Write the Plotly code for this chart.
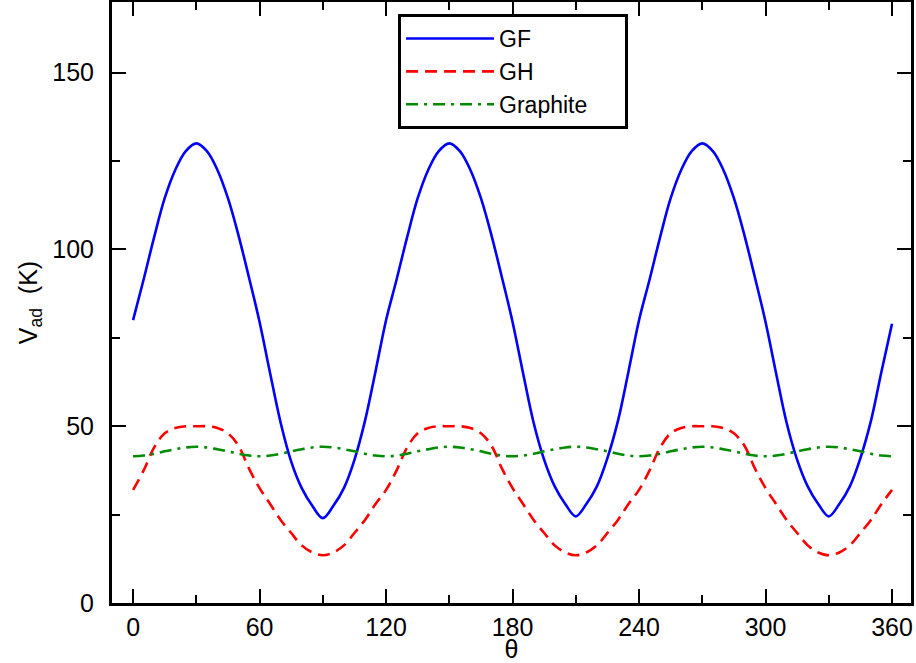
import plotly.graph_objects as go

theta = list(range(0, 365, 5))

gf = [80, 91.5, 103.5, 114.5, 122.5, 127.8, 130, 127.8, 122.5, 114.5, 104, 92, 79.5, 65, 51, 40, 32.5, 27.5, 24, 27.5, 32.5, 40.5, 51.5, 65.5,
      80, 91.5, 103.5, 114.5, 122.5, 127.8, 130, 127.8, 122.5, 114.5, 104, 92, 79.5, 65, 51, 40.5, 33, 28, 24.5, 28, 33, 41, 51.5, 65.5,
      80, 91.5, 103.5, 114.5, 122.5, 127.8, 130, 127.8, 122.5, 114.5, 104, 92, 79.5, 65, 51, 40.5, 33, 28, 24.5, 28, 33, 41, 51.5, 65.5,
      79]

gh = [32, 37.5, 44, 48, 49.5, 50, 50, 50, 49.5, 48, 44.5, 38, 32.5, 28, 23.5, 19.8, 16.3, 14.3, 13.5, 14.3, 16.3, 19.8, 23.5, 28,
      32, 37.5, 44, 48, 49.5, 50, 50, 50, 49.5, 48, 44.5, 38, 32.5, 28, 23.5, 19.8, 16.3, 14.3, 13.5, 14.3, 16.3, 19.8, 23.5, 28,
      32, 37.5, 44, 48, 49.5, 50, 50, 50, 49.5, 48, 44.5, 38, 32.5, 28, 23.5, 19.8, 16.3, 14.3, 13.5, 14.3, 16.3, 19.8, 23.5, 28,
      32]

graphite = [41.5, 41.7, 42.2, 42.9, 43.5, 44.0, 44.2, 44.0, 43.5, 42.9, 42.2, 41.7,
            41.5, 41.7, 42.2, 42.9, 43.5, 44.0, 44.2, 44.0, 43.5, 42.9, 42.2, 41.7,
            41.5, 41.7, 42.2, 42.9, 43.5, 44.0, 44.2, 44.0, 43.5, 42.9, 42.2, 41.7,
            41.5, 41.7, 42.2, 42.9, 43.5, 44.0, 44.2, 44.0, 43.5, 42.9, 42.2, 41.7,
            41.5, 41.7, 42.2, 42.9, 43.5, 44.0, 44.2, 44.0, 43.5, 42.9, 42.2, 41.7,
            41.5, 41.7, 42.2, 42.9, 43.5, 44.0, 44.2, 44.0, 43.5, 42.9, 42.2, 41.7,
            41.5]

x_ticks = [0, 60, 120, 180, 240, 300, 360]
y_ticks = [0, 50, 100, 150]
series_names = ["GF", "GH", "Graphite"]

FONT = "Liberation Sans, Arial, sans-serif"
PAD = "\u00a0" * 5

fig = go.Figure()
fig.add_trace(go.Scatter(x=theta, y=gf, name=series_names[0], mode="lines",
                         line=dict(color="#0000ff", width=2.6, shape="spline", smoothing=1.0)))
fig.add_trace(go.Scatter(x=theta, y=gh, name=series_names[1], mode="lines",
                         line=dict(color="#ff0000", width=2.6, dash="12px,7px", shape="spline", smoothing=1.0)))
fig.add_trace(go.Scatter(x=theta, y=graphite, name=series_names[2] + PAD, mode="lines",
                         line=dict(color="#008b00", width=2.6, dash="12px,6px,3px,6px", shape="spline", smoothing=1.0)))

axis_common = dict(
    showline=True, linecolor="black", linewidth=3, mirror="allticks",
    ticks="inside", ticklen=14, tickwidth=2, tickcolor="black",
    showgrid=False, zeroline=False, automargin=False,
    tickfont=dict(family=FONT, size=25, color="black"),
)

fig.update_xaxes(range=[-10, 369], tickvals=x_ticks, ticktext=[str(v) for v in x_ticks],
                 minor=dict(dtick=30, tick0=0, ticks="inside", ticklen=8, tickwidth=2, tickcolor="black"),
                 title=dict(text="θ", font=dict(family=FONT, size=25, color="black"), standoff=1),
                 ticklabelstandoff=0,
                 **axis_common)
fig.update_yaxes(range=[0, 170], tickvals=y_ticks, ticktext=[str(v) for v in y_ticks],
                 minor=dict(dtick=25, tick0=0, ticks="inside", ticklen=8, tickwidth=2, tickcolor="black"),
                 title=dict(text="V<sub>ad</sub>  (K)", font=dict(family=FONT, size=25, color="black"), standoff=8),
                 ticklabelstandoff=10,
                 **axis_common)

fig.update_layout(
    width=916, height=663,
    margin=dict(l=112, r=5, t=2, b=60),
    plot_bgcolor="white", paper_bgcolor="white",
    font=dict(family=FONT, size=25, color="black"),
    legend=dict(x=0.358, y=0.98, xanchor="left", yanchor="top",
                bordercolor="black", borderwidth=3, bgcolor="white",
                font=dict(family=FONT, size=23, color="black"),
                itemwidth=88, tracegroupgap=0),
    showlegend=True,
)

fig.write_html("out.html", config={"displayModeBar": False},
               post_script="document.body.style.margin='0';document.body.style.overflow='hidden';")
